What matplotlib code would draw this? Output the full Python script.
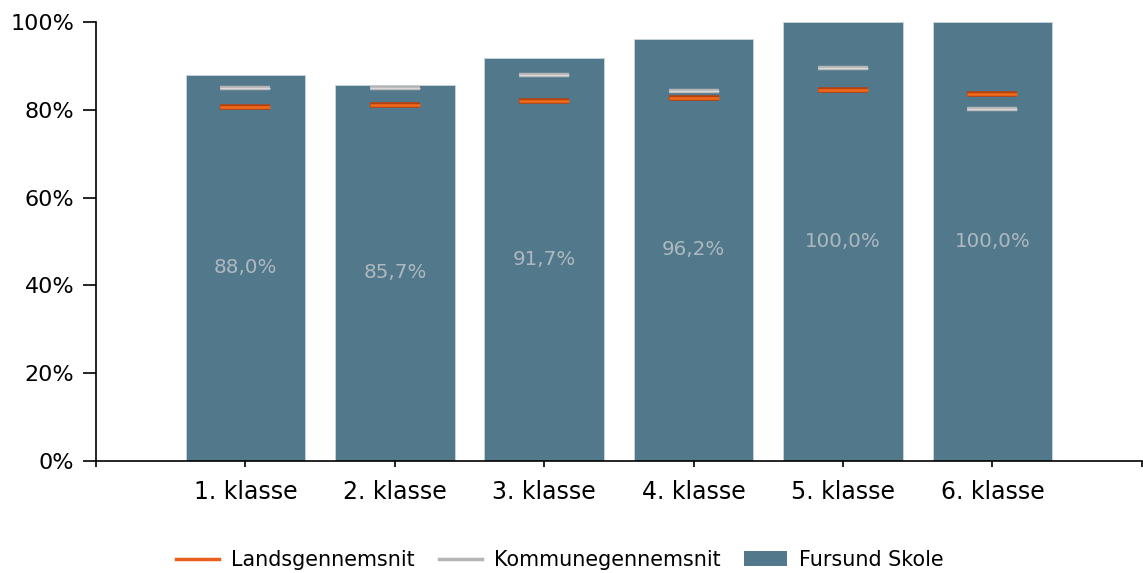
import matplotlib
matplotlib.use("Agg")
import matplotlib.pyplot as plt
from matplotlib.lines import Line2D
from matplotlib.patches import Patch
import numpy as np

categories = ["1. klasse", "2. klasse", "3. klasse", "4. klasse", "5. klasse", "6. klasse"]
skole = [88.0, 85.7, 91.7, 96.2, 100.0, 100.0]
lands = [80.6, 81.1, 82.0, 82.7, 84.5, 83.6]
kommune = [85.0, 85.0, 87.9, 84.4, 89.6, 80.2]
bar_labels = ["88,0%", "85,7%", "91,7%", "96,2%", "100,0%", "100,0%"]
yticks = [0, 20, 40, 60, 80, 100]
ytick_labels = ["0%", "20%", "40%", "60%", "80%", "100%"]

plt.rcParams['font.family'] = ['DejaVu Sans']

bar_color = "#52788b"
orange = "#e8601c"
gray = "#b4b4b4"

fig = plt.figure(figsize=(11.43, 5.73), dpi=100)
ax = fig.add_axes([0.084, 0.1955, 0.915, 0.766])

x = np.arange(len(categories))
ax.bar(x, skole, width=0.8, color=bar_color, edgecolor="#c9d6de", linewidth=0.6, zorder=2)
hw = 0.167
ax.hlines(kommune, x - hw, x + hw, colors=gray, linewidth=3.2, zorder=3)
ax.hlines(kommune, x - hw, x + hw, colors="#d8d8d8", linewidth=1.0, zorder=3)
ax.hlines(lands, x - hw, x + hw, colors="#b8420e", linewidth=4, zorder=4)
ax.hlines(lands, x - hw, x + hw, colors="#f06a1a", linewidth=1.8, zorder=4)

for xi, v, lab in zip(x, skole, bar_labels):
    ax.text(xi, v / 2, lab, ha="center", va="center", color="#aeb8bf", fontsize=14.3, zorder=5)

ax.set_xlim(-1, 6)
ax.set_ylim(0, 100)
ax.set_xticks(list(range(-1, 7)))
ax.set_xticklabels([""] + categories + [""], fontsize=17)
ax.set_yticks(yticks)
ax.set_yticklabels(ytick_labels, fontsize=16)
for s in ["top", "right"]:
    ax.spines[s].set_visible(False)
ax.spines["left"].set_linewidth(1.2)
ax.spines["bottom"].set_linewidth(1.2)
ax.tick_params(axis="y", length=9.5, width=1.2, pad=6)
ax.tick_params(axis="x", length=4.5, width=1.2, pad=9)

handles = [Line2D([0], [0], color=orange, lw=2.5),
           Line2D([0], [0], color=gray, lw=2.5),
           Patch(facecolor=bar_color)]
fig.legend(handles, ["Landsgennemsnit", "Kommunegennemsnit", "Fursund Skole"],
           loc="center", bbox_to_anchor=(0.49, 0.023), ncol=3, frameon=False,
           fontsize=14.9, handlelength=2.08, columnspacing=1.16, handletextpad=0.58)

fig.savefig("out.png", dpi=100)
